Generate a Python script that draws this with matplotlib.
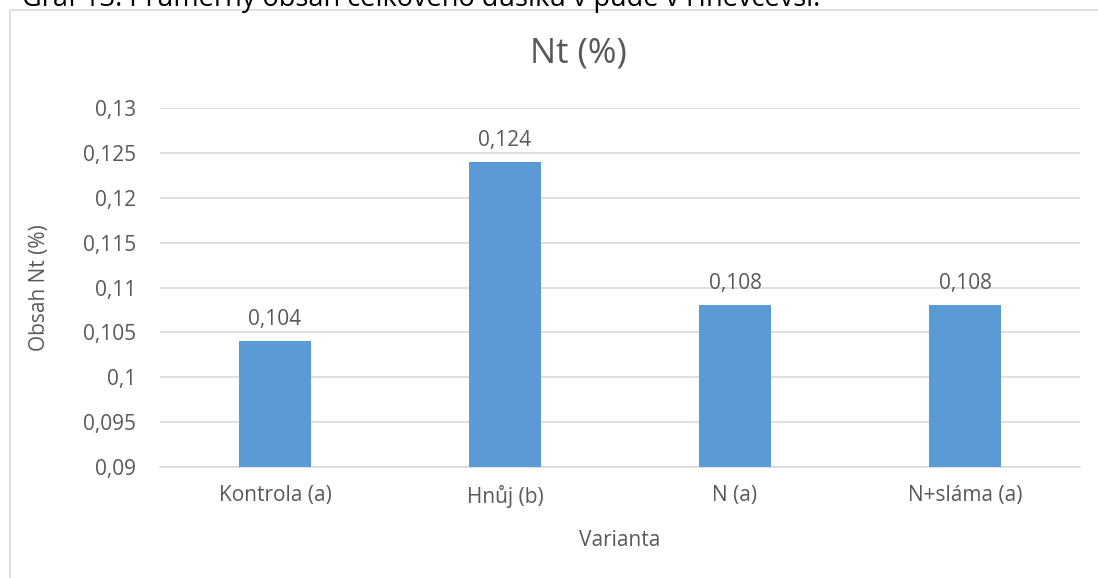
import matplotlib
matplotlib.use("Agg")
import matplotlib.pyplot as plt
from matplotlib.patches import Rectangle

plt.rcParams['font.family'] = ['Open Sans', 'DejaVu Sans']

categories = ["Kontrola (a)", "Hnůj (b)", "N (a)", "N+sláma (a)"]
values = [0.104, 0.124, 0.108, 0.108]
yticks = [0.09, 0.095, 0.10, 0.105, 0.11, 0.115, 0.12, 0.125, 0.13]

TEXT = "#595959"
BAR = "#5B9BD5"
GRID = "#D9D9D9"

W, H = 1098, 578
fig = plt.figure(figsize=(W / 100, H / 100), dpi=100)

# caption above the chart frame, partly cut by the page edge
fig.text(22 / W, 1 - 6 / H,
         "Graf 13: Průměrný obsah celkového dusíku v půdě v Hněvčevsi.",
         ha="left", va="baseline", fontsize=19.5, color="black")

# chart frame
fig.add_artist(Rectangle((9.5 / W, -0.1), 1.2, 1 - 9.5 / H + 0.1,
                         transform=fig.transFigure, fill=False,
                         edgecolor="#D9D9D9", linewidth=1.2))

ax = fig.add_axes([160 / W, 1 - 467 / H, 920 / W, 359 / H])
x = range(len(categories))
ax.bar(x, values, width=0.313, color=BAR, zorder=3)
ax.set_xlim(-0.5, len(categories) - 0.5)
ax.set_ylim(0.09, 0.13)
ax.set_yticks(yticks)
ax.set_yticklabels([("%g" % v).replace(".", ",") for v in yticks])
ax.set_xticks(list(x))
ax.set_xticklabels(categories)
ax.grid(axis="y", color=GRID, linewidth=1.2, zorder=0)
for s in ["top", "right", "left"]:
    ax.spines[s].set_visible(False)
ax.spines["bottom"].set_color(GRID)
ax.spines["bottom"].set_linewidth(1.2)
ax.tick_params(axis="both", length=0, colors=TEXT, labelsize=15)
ax.tick_params(axis="y", pad=17)
ax.tick_params(axis="x", pad=13)

for xi, v in zip(x, values):
    ax.annotate(("%g" % v).replace(".", ","), (xi, v), xytext=(0, 8),
                textcoords="offset points", ha="center", va="bottom",
                fontsize=15, color=TEXT)

fig.text(578 / W, 1 - 53 / H, "Nt (%)", fontsize=25, color=TEXT,
         ha="center", va="center")
ax.set_ylabel("Obsah Nt (%)", fontsize=15, color=TEXT, labelpad=24)
ax.set_xlabel("Varianta", fontsize=15, color=TEXT, labelpad=16)

fig.savefig("out.png", dpi=100)
